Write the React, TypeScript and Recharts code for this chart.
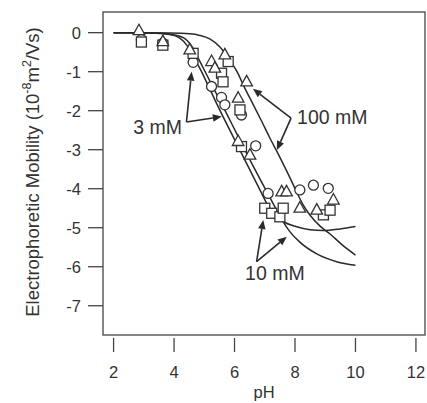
import { ComposedChart, Line, Scatter, XAxis, YAxis } from "recharts";

// measured points, 3 mM (circles)
const circlePh = [2.92, 3.63, 4.63, 5.24, 5.57, 5.68, 6.23, 6.70, 7.11, 8.16, 8.61, 9.10];
const circleMu = [-0.18, -0.27, -0.76, -1.38, -1.66, -1.85, -2.11, -2.9, -4.12, -4.03, -3.91, -3.99];

// 10 mM (squares)
const squarePh = [2.92, 3.63, 4.63, 5.57, 5.62, 5.79, 6.18, 6.23, 7.0, 7.23, 7.5, 7.61, 8.94, 9.16];
const squareMu = [-0.24, -0.32, -0.53, -1.04, -1.26, -0.74, -1.98, -2.92, -4.5, -4.63, -4.72, -4.5, -4.67, -4.55];

// 100 mM (triangles)
const trianglePh = [2.84, 3.63, 4.52, 5.24, 5.35, 5.68, 6.12, 6.4, 6.12, 6.51, 7.56, 7.72, 8.16, 8.72, 9.27];
const triangleMu = [0.05, -0.23, -0.44, -0.74, -0.91, -0.57, -1.68, -1.26, -2.79, -3.14, -4.08, -4.08, -4.5, -4.55, -4.29];

// fitted curves
const fit3Ph = [2.0, 3.19, 3.86, 4.19, 4.42, 4.62, 4.85, 5.18, 5.51, 5.84, 6.34, 6.84, 7.1, 7.35, 7.65, 8.0, 8.5, 8.93, 9.49, 10.0];
const fit3Mu = [0, -0.01, -0.05, -0.14, -0.32, -0.58, -0.91, -1.44, -1.98, -2.49, -3.26, -4.03, -4.42, -4.68, -4.86, -4.96, -5.05, -5.07, -5.03, -4.97];
const fit10Ph = [2.0, 3.36, 4.02, 4.39, 4.62, 4.85, 5.25, 5.71, 6.08, 6.51, 7.07, 7.34, 7.57, 7.83, 8.16, 8.72, 9.38, 10.0];
const fit10Mu = [0, -0.01, -0.06, -0.17, -0.39, -0.73, -1.34, -2.03, -2.6, -3.26, -4.08, -4.47, -4.8, -5.1, -5.37, -5.67, -5.87, -5.96];
const fit100Ph = [2.0, 3.86, 4.52, 4.85, 5.18, 5.51, 5.84, 6.07, 6.34, 6.61, 6.91, 7.17, 7.51, 7.84, 8.07, 8.26, 8.5, 8.83, 9.16, 9.56, 10.0];
const fit100Mu = [0, -0.01, -0.03, -0.07, -0.16, -0.36, -0.7, -0.98, -1.42, -1.83, -2.29, -2.7, -3.21, -3.73, -4.11, -4.4, -4.68, -4.96, -5.16, -5.44, -5.7];

const xTicks = [2, 4, 6, 8, 10, 12];
const yTicks = [0, -1, -2, -3, -4, -5, -6, -7];

// annotations in data units
const notes = [
  { text: "3 mM", x: 4.26, y: -2.6, anchor: "end" },
  { text: "100 mM", x: 8.07, y: -2.34, anchor: "start" },
  { text: "10 mM", x: 6.35, y: -6.35, anchor: "start" },
];
const arrows = [
  { from: [4.41, -2.29], to: [4.58, -1.0] },
  { from: [4.41, -2.29], to: [5.58, -2.15] },
  { from: [7.87, -2.19], to: [6.61, -1.44] },
  { from: [7.87, -2.19], to: [7.4, -3.01] },
  { from: [6.73, -5.87], to: [6.95, -4.8] },
  { from: [6.73, -5.87], to: [7.73, -5.23] },
];

const W = 427;
const H = 403;
const LEFT = 103;
const TOP = 12;
const RIGHT = 425;
const BOTTOM = 335;
const X_DOM = [1.65, 12.3];
const Y_DOM = [-7.75, 0.53];
const FONT = "'Liberation Sans', Arial, sans-serif";
const FS = 16.5;
const INK = "#2a2a2a";
const AX = "#444";
const TXT = "#333";

const zip = (xs: number[], ys: number[]) => xs.map((x, i) => ({ x, y: ys[i] }));

const px = (x: number) => LEFT + ((x - X_DOM[0]) / (X_DOM[1] - X_DOM[0])) * (RIGHT - LEFT);
const py = (y: number) => TOP + ((Y_DOM[1] - y) / (Y_DOM[1] - Y_DOM[0])) * (BOTTOM - TOP);

const mark = { fill: "#fff", stroke: "#333", strokeWidth: 1.3 };

const CircleDot = (p: any) => <circle cx={p.cx} cy={p.cy} r={5} {...mark} />;
const SquareDot = (p: any) => <rect x={p.cx - 5} y={p.cy - 5} width={10} height={10} {...mark} />;
const TriangleDot = (p: any) => (
  <polygon points={`${p.cx},${p.cy - 6.5} ${p.cx + 5.8},${p.cy + 4} ${p.cx - 5.8},${p.cy + 4}`} {...mark} />
);

function XTick({ x, y, payload }: any) {
  return (
    <g>
      <line x1={x} x2={x} y1={y + 3} y2={y + 17} stroke={AX} strokeWidth={1.3} />
      <text x={x} y={y + 43} textAnchor="middle" fontSize={FS} fill={TXT} fontFamily={FONT}>
        {payload.value}
      </text>
    </g>
  );
}

function Arrow({ from, to }: { from: number[]; to: number[] }) {
  const x1 = px(from[0]);
  const y1 = py(from[1]);
  const x2 = px(to[0]);
  const y2 = py(to[1]);
  const a = Math.atan2(y2 - y1, x2 - x1);
  const len = 9;
  const half = 3.8;
  const bx = x2 - len * Math.cos(a);
  const by = y2 - len * Math.sin(a);
  const pts = [
    [x2, y2],
    [bx + half * Math.sin(a), by - half * Math.cos(a)],
    [bx - half * Math.sin(a), by + half * Math.cos(a)],
  ];
  return (
    <g>
      <line x1={x1} y1={y1} x2={bx} y2={by} stroke={INK} strokeWidth={1.6} />
      <polygon points={pts.map((p) => p.join(",")).join(" ")} fill={INK} />
    </g>
  );
}

export default function App() {
  return (
    <div style={{ position: "absolute", left: 0, top: 0, width: W, height: H, background: "#fff" }}>
      <ComposedChart width={W} height={H} margin={{ top: TOP, right: W - RIGHT, left: 0, bottom: 0 }}>
        <XAxis
          type="number"
          dataKey="x"
          domain={X_DOM}
          ticks={xTicks}
          allowDataOverflow
          height={H - BOTTOM}
          axisLine={false}
          tickLine={false}
          tickSize={0}
          tickMargin={0}
          tick={<XTick />}
          interval={0}
        />
        <YAxis
          type="number"
          dataKey="y"
          domain={Y_DOM}
          ticks={yTicks}
          allowDataOverflow
          width={LEFT}
          axisLine={false}
          tickLine={{ stroke: AX, strokeWidth: 1.3 }}
          tickSize={15}
          tickMargin={7}
          interval={0}
          tick={{ fontSize: FS, fill: TXT, fontFamily: FONT }}
        />
        <Line data={zip(fit3Ph, fit3Mu)} dataKey="y" type="monotone" stroke={INK} strokeWidth={1.5} dot={false} isAnimationActive={false} />
        <Line data={zip(fit10Ph, fit10Mu)} dataKey="y" type="monotone" stroke={INK} strokeWidth={1.5} dot={false} isAnimationActive={false} />
        <Line data={zip(fit100Ph, fit100Mu)} dataKey="y" type="monotone" stroke={INK} strokeWidth={1.5} dot={false} isAnimationActive={false} />
        <Scatter data={zip(circlePh, circleMu)} shape={CircleDot} isAnimationActive={false} />
        <Scatter data={zip(squarePh, squareMu)} shape={SquareDot} isAnimationActive={false} />
        <Scatter data={zip(trianglePh, triangleMu)} shape={TriangleDot} isAnimationActive={false} />
      </ComposedChart>
      <svg width={W} height={H} style={{ position: "absolute", left: 0, top: 0, pointerEvents: "none" }}>
        <rect x={LEFT} y={TOP} width={RIGHT - LEFT} height={BOTTOM - TOP} fill="none" stroke={AX} strokeWidth={1.3} />
        {arrows.map((a, i) => (
          <Arrow key={i} from={a.from} to={a.to} />
        ))}
        {notes.map((n) => (
          <text key={n.text} x={px(n.x)} y={py(n.y)} textAnchor={n.anchor as any} fontSize={19.5} fill={TXT} fontFamily={FONT}>
            {n.text}
          </text>
        ))}
        <text x={(LEFT + RIGHT) / 2} y={398} textAnchor="middle" fontSize={FS} fill={TXT} fontFamily={FONT}>
          pH
        </text>
        <text
          transform={`translate(39, 172) rotate(-90)`}
          textAnchor="middle"
          fontSize={18.5}
          fill={TXT}
          fontFamily={FONT}
        >
          Electrophoretic Mobility (10
          <tspan fontSize={12.5} dy={-8}>-8</tspan>
          <tspan dy={8}>m</tspan>
          <tspan fontSize={12.5} dy={-8}>2</tspan>
          <tspan dy={8}>/Vs)</tspan>
        </text>
      </svg>
    </div>
  );
}
